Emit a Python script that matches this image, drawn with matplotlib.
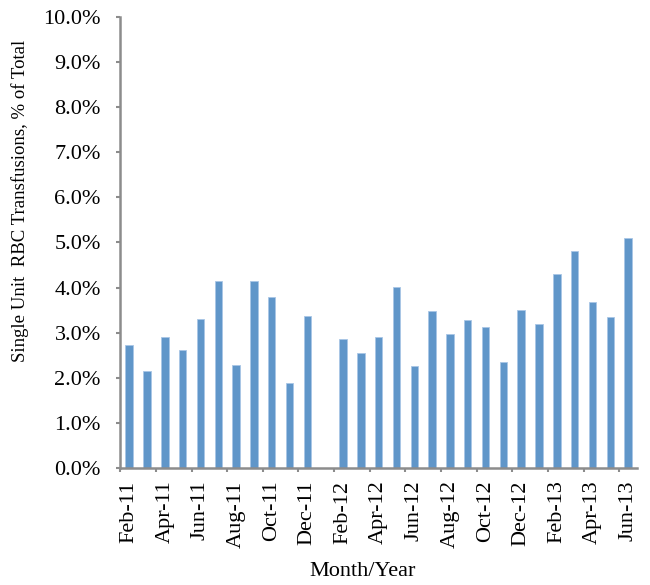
import numpy as np
import matplotlib
matplotlib.use('Agg')
from matplotlib import pyplot as plt

# monthly share of single unit RBC transfusions (%), Jan-12 has no value
months = ['Feb-11', 'Mar-11', 'Apr-11', 'May-11', 'Jun-11', 'Jul-11', 'Aug-11',
          'Sep-11', 'Oct-11', 'Nov-11', 'Dec-11', 'Jan-12', 'Feb-12', 'Mar-12',
          'Apr-12', 'May-12', 'Jun-12', 'Jul-12', 'Aug-12', 'Sep-12', 'Oct-12',
          'Nov-12', 'Dec-12', 'Jan-13', 'Feb-13', 'Mar-13', 'Apr-13', 'May-13',
          'Jun-13']
pct = [2.73, 2.15, 2.90, 2.62, 3.30, 4.15, 2.28, 4.15, 3.79, 1.89, 3.38, np.nan,
       2.85, 2.55, 2.90, 4.02, 2.27, 3.47, 2.97, 3.28, 3.13, 2.35, 3.51, 3.20,
       4.30, 4.82, 3.68, 3.34, 5.10]

plt.rcParams['font.family'] = ['Liberation Serif', 'DejaVu Serif']

fig = plt.figure(figsize=(6.5, 5.85), dpi=100)
ax = fig.add_axes([0.185, 0.2, 0.795, 0.771])

x = np.arange(len(months))
ax.bar(x, pct, width=0.42, color='#6096C9', edgecolor='#A9C6E6', linewidth=0.6)

ax.set_xlim(-0.5, len(months) - 0.5)
ax.set_ylim(0, 10)
ax.set_yticks(np.arange(0, 10.1, 1))
ax.set_yticklabels(['%.1f%%' % v for v in np.arange(0, 10.1, 1)])

# labels every other month, tick marks on the category boundaries
ax.set_xticks(x[::2])
ax.set_xticklabels(months[::2], rotation=90)
ax.set_xticks(np.arange(-0.5, len(months) - 1, 2), minor=True)
ax.tick_params(axis='x', which='major', length=0, pad=9, labelsize=16)
ax.tick_params(axis='x', which='minor', length=3, width=1.5, color='#8c8c8c')
ax.tick_params(axis='y', length=3, width=1.5, color='#8c8c8c', labelsize=16, pad=11)

for s in ['top', 'right']:
    ax.spines[s].set_visible(False)
for s in ['left', 'bottom']:
    ax.spines[s].set_color('#8c8c8c')
    ax.spines[s].set_linewidth(1.8)

fig.text(0.031, 1 - 201 / 585, 'Single Unit  RBC Transfusions, % of Total',
         rotation=90, ha='center', va='center', fontsize=13.5)
fig.text(363 / 650, 1 - 572 / 585, 'Month/Year', ha='center', va='center',
         fontsize=16)

fig.savefig('out.png', dpi=100)
